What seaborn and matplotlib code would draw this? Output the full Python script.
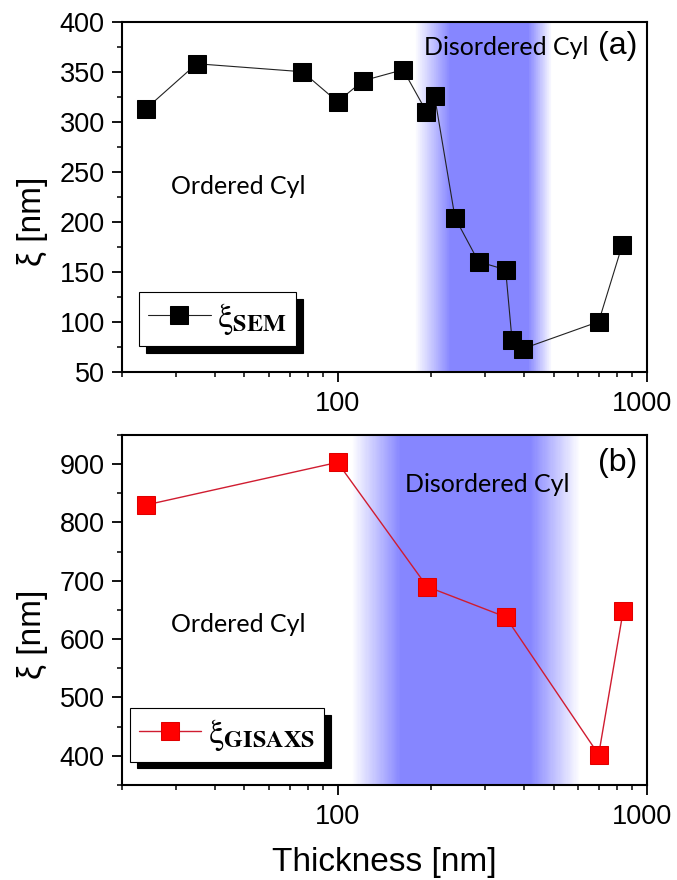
import numpy as np
import matplotlib
matplotlib.use("Agg")
import matplotlib.pyplot as plt
import seaborn as sns
from matplotlib.colors import LinearSegmentedColormap
from matplotlib.transforms import ScaledTranslation
from matplotlib.ticker import FixedLocator, FormatStrFormatter, LogLocator, NullFormatter, MultipleLocator

# (a) correlation length from SEM vs film thickness
sem_thick = [24, 35, 77, 100, 121, 163, 194, 206, 240, 286, 350, 367, 398, 700, 835]
sem_xi = [313, 358, 350, 320, 341, 352, 310, 326, 204, 160, 152, 82, 73, 100, 177]

# (b) correlation length from GISAXS vs film thickness
gis_thick = [24, 100, 195, 350, 700, 840]
gis_xi = [830, 903, 690, 638, 402, 648]

# disordered cylinder band: fade in start, solid start, solid end, fade out end
band_sem = [178, 232, 414, 495]
band_gis = [111, 160, 421, 610]

sns.set_style("ticks")
plt.rcParams['font.family'] = ['Liberation Sans', 'DejaVu Sans']
plt.rcParams['mathtext.fontset'] = 'stix'
for key in ['text.color', 'axes.labelcolor', 'xtick.color', 'ytick.color', 'axes.edgecolor']:
    plt.rcParams[key] = 'black'

blue = '#8686ff'
band_cmap = LinearSegmentedColormap.from_list('band', ['white', blue])


def shade(ax, band, ylim):
    # gradient band drawn as a one-row mesh, linear in log(thickness)
    edges = np.geomspace(band[0], band[3], 200)
    mids = np.sqrt(edges[:-1] * edges[1:])
    level = np.interp(np.log10(mids), np.log10(band), [0, 1, 1, 0])
    ax.pcolormesh(edges, ylim, level[None, :], cmap=band_cmap, vmin=0, vmax=1,
                  shading='flat', zorder=0)


def style_axes(ax, ylim, major, minor):
    ax.set_xscale('log')
    ax.set_xlim(20, 1000)
    ax.set_ylim(*ylim)
    ax.xaxis.set_major_locator(FixedLocator([100, 1000]))
    ax.xaxis.set_major_formatter(FormatStrFormatter('%d'))
    ax.xaxis.set_minor_locator(LogLocator(base=10, subs=np.arange(2, 10)))
    ax.xaxis.set_minor_formatter(NullFormatter())
    ax.yaxis.set_major_locator(MultipleLocator(major))
    ax.yaxis.set_minor_locator(MultipleLocator(minor))
    ax.tick_params(which='major', direction='out', length=7, width=1.3, labelsize=19.5, pad=5)
    ax.tick_params(which='minor', direction='out', length=3.8, width=1.1)
    ax.tick_params(axis='x', which='major', pad=7)
    for s in ax.spines.values():
        s.set_linewidth(1.5)
        s.set_color('black')
        s.set_visible(True)
    ax.set_ylabel('ξ [nm]', fontsize=24)
    ax.yaxis.set_label_coords(-0.14, 0.43)
    # keep the "1000" label inside the canvas
    last = ax.xaxis.get_major_ticks()[1].label1
    last.set_transform(last.get_transform() + ScaledTranslation(-3 / 72, 0, fig.dpi_scale_trans))


fig = plt.figure(figsize=(6.77, 8.80), dpi=100)
ax1 = fig.add_axes([0.1795, 0.5776, 0.7755, 0.3977])
ax2 = fig.add_axes([0.1795, 0.108, 0.7755, 0.3977])

shadow = {'ox': 5, 'oy': -5, 'facecolor': 'black', 'edgecolor': 'black', 'alpha': 1}

# panel (a)
shade(ax1, band_sem, [50, 400])
sns.lineplot(x=sem_thick, y=sem_xi, ax=ax1, estimator=None, sort=False, color='#222222',
             linewidth=0.8, marker='s', markersize=12.5, markerfacecolor='black',
             markeredgecolor='black', label=r'$\mathrm{\xi}_{\mathbf{SEM}}$', zorder=3)
style_axes(ax1, (50, 400), 50, 25)
ax1.text(47.6, 235, 'Ordered Cyl', ha='center', va='center', fontsize=18, family='Lato')
ax1.text(351, 374, 'Disordered Cyl', ha='center', va='center', fontsize=18, family='Lato')
ax1.text(0.945, 0.93, '(a)', transform=ax1.transAxes, ha='center', va='center', fontsize=23)
leg1 = ax1.legend(loc='lower left', bbox_to_anchor=(0.034, 0.074), borderaxespad=0,
                  fancybox=False, framealpha=1, edgecolor='black', fontsize=25,
                  handlelength=1.8, handletextpad=0.2, borderpad=0.25, shadow=shadow)
leg1.get_frame().set_linewidth(0.8)

# panel (b)
shade(ax2, band_gis, [350, 950])
sns.lineplot(x=gis_thick, y=gis_xi, ax=ax2, estimator=None, sort=False, color='#d01c30',
             linewidth=1.0, marker='s', markersize=12.5, markerfacecolor='#ff0000',
             markeredgecolor='#e00000', label=r'$\mathrm{\xi}_{\mathbf{GISAXS}}$', zorder=3)
style_axes(ax2, (350, 950), 100, 50)
ax2.text(47.8, 625, 'Ordered Cyl', ha='center', va='center', fontsize=18, family='Lato')
ax2.text(305, 865, 'Disordered Cyl', ha='center', va='center', fontsize=18, family='Lato')
ax2.text(0.945, 0.92, '(b)', transform=ax2.transAxes, ha='center', va='center', fontsize=23)
leg2 = ax2.legend(loc='lower left', bbox_to_anchor=(0.016, 0.067), borderaxespad=0,
                  fancybox=False, framealpha=1, edgecolor='black', fontsize=25,
                  handlelength=1.8, handletextpad=0.2, borderpad=0.25, shadow=shadow)
leg2.get_frame().set_linewidth(0.8)
ax2.set_xlabel('Thickness [nm]', fontsize=24, labelpad=12)

fig.savefig('out.png', dpi=100)
